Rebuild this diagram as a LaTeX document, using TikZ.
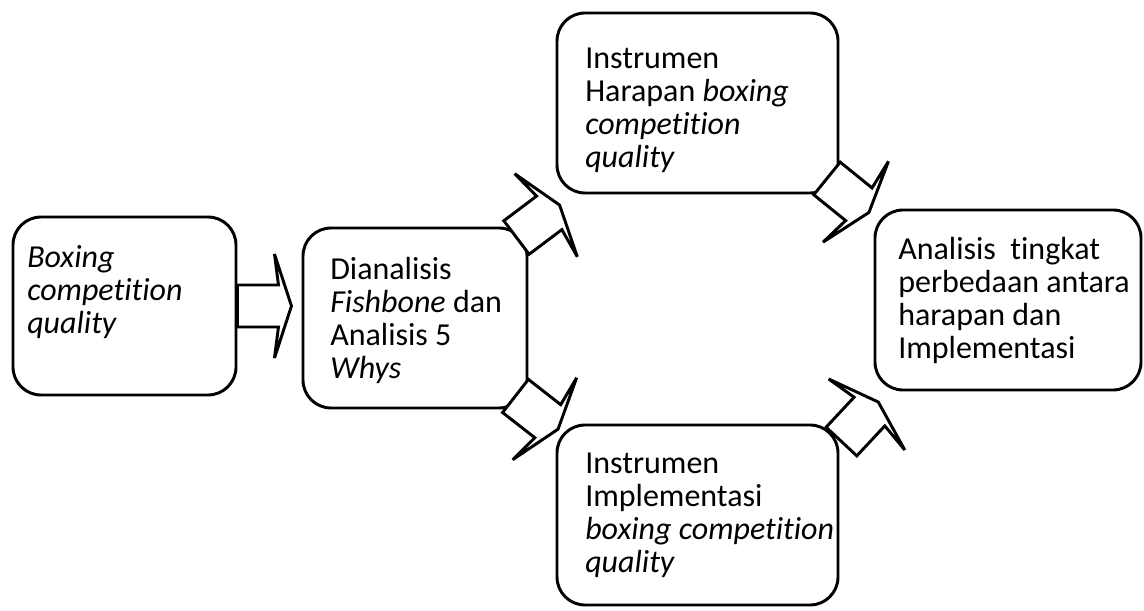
\documentclass[tikz,border=0pt]{standalone}
\usepackage{fontspec}
\setmainfont{Carlito}[Ligatures=NoCommon]
\usetikzlibrary{calc}
\begin{document}
\begin{tikzpicture}[x=0.75pt,y=0.75pt,
  box/.style={draw, line width=2.2pt, rounded corners=21pt, fill=white, inner sep=0pt},
  txt/.style={anchor=base west, align=left, inner sep=0pt, font=\fontsize{24}{24.75}\selectfont},
  blockarr/.style={draw, line width=2.2pt, fill=white, line join=miter},
  barrow/.pic={\path[blockarr] (0,21) -- (41,21) -- (37,52) -- (54,0) -- (37,-52) -- (41,-21) -- (0,-21) -- cycle;}
]
\useasboundingbox (0,0) rectangle (1144,610);
% boxes
\node[box, minimum width={223*0.75pt}, minimum height={178*0.75pt}] (b1) at (124.5,304) {};
\node[box, minimum width={224*0.75pt}, minimum height={180*0.75pt}] (b2) at (415,292) {};
\node[box, minimum width={281*0.75pt}, minimum height={180*0.75pt}] (b3) at (697.5,507) {};
\node[box, minimum width={266*0.75pt}, minimum height={180*0.75pt}] (b4) at (1008,310) {};
\node[box, minimum width={281*0.75pt}, minimum height={180*0.75pt}] (b5) at (697.5,95) {};
% block arrows
\pic[rotate=0] at (b1.east) {barrow};
\pic[rotate=37] at ($(b2.north east)+(-12,-11)$) {barrow};
\pic[rotate=-38] at ($(b2.south east)+(-13,13.5)$) {barrow};
\pic[rotate=-39] at ($(b3.south east)+(-12.5,16)$) {barrow};
\pic[rotate=47] at ($(b5.north east)+(2,-18)$) {barrow};
% texts (base anchor = baseline of the last line)
\node[txt] (t1) at (27,276) {\textit{Boxing}\\\textit{competition}\\\textit{quality}};
\node[txt] (t2) at (330,231) {Dianalisis\\\textit{Fishbone} dan\\Analisis 5\\\textit{Whys}};
\node[txt] (t3) at (585,442) {Instrumen\\Harapan \textit{boxing}\\\textit{competition}\\\textit{quality}};
\node[txt] (t4) at (898,251) {Analisis\ \ tingkat\\perbedaan antara\\harapan dan\\Implementasi};
\node[txt] (t5) at (585,38) {Instrumen\\Implementasi\\\textit{boxing competition}\\\textit{quality}};
\end{tikzpicture}
\end{document}
